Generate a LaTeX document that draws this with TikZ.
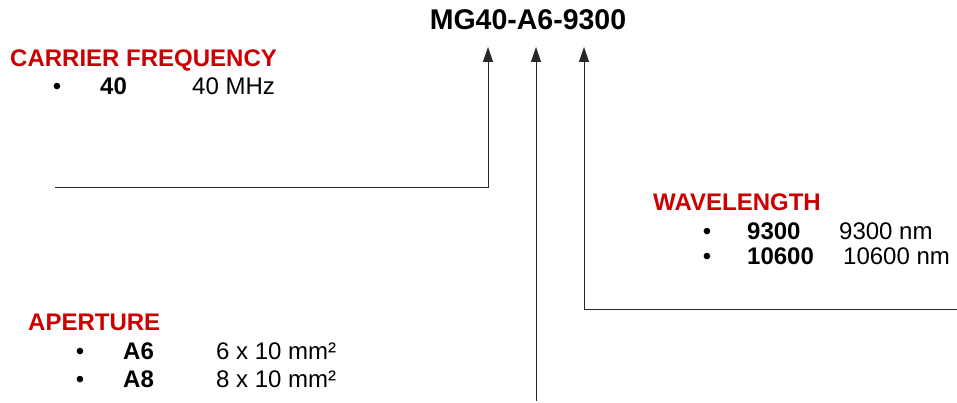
\documentclass[tikz,border=0pt]{standalone}
\usepackage{fontspec}
\setmainfont{Liberation Sans}
\usetikzlibrary{arrows.meta}
\definecolor{headred}{RGB}{204, 0, 0}
\definecolor{linegray}{RGB}{40, 40, 40}

\begin{document}
\begin{tikzpicture}[
  x=1pt, y=1pt,
  codebox/.style={anchor=base, inner sep=0pt, font=\fontsize{28.5}{32}\selectfont\bfseries},
  heading/.style={anchor=base west, inner sep=0pt, text=headred,
                  font=\fontsize{24}{28}\selectfont\bfseries},
  dotitem/.style={anchor=base, inner sep=0pt, font=\fontsize{24}{28}\selectfont},
  keyitem/.style={anchor=base west, inner sep=0pt, font=\fontsize{24}{28}\selectfont\bfseries},
  valitem/.style={anchor=base west, inner sep=0pt, font=\fontsize{24}{28}\selectfont},
  arr/.style={-{Triangle[length=15pt, width=10pt]}, line width=1pt, color=linegray}
]
  \useasboundingbox (0,0) rectangle (957,403);

  \node[codebox] (code) at (528,373) {MG40-A6-9300};

  % carrier frequency
  \node[heading] (freq)     at (10,336)  {CARRIER FREQUENCY};
  \node[dotitem] (freq dot) at (57,308)  {\textbullet};
  \node[keyitem] (freq key) at (100,308) {40};
  \node[valitem] (freq val) at (192,308) {40 MHz};

  % wavelength
  \node[heading] (wave)      at (653,192) {WAVELENGTH};
  \node[dotitem] (wave dota) at (707,163) {\textbullet};
  \node[keyitem] (wave keya) at (747,163) {9300};
  \node[valitem] (wave vala) at (839,163) {9300 nm};
  \node[dotitem] (wave dotb) at (707,138) {\textbullet};
  \node[keyitem] (wave keyb) at (747,138) {10600};
  \node[valitem] (wave valb) at (843,138) {10600 nm};

  % aperture
  \node[heading] (aper)      at (28,72)  {APERTURE};
  \node[dotitem] (aper dota) at (80,43)  {\textbullet};
  \node[keyitem] (aper keya) at (123,43) {A6};
  \node[valitem] (aper vala) at (216,43) {6 x 10 mm²};
  \node[dotitem] (aper dotb) at (80,15)  {\textbullet};
  \node[keyitem] (aper keyb) at (123,15) {A8};
  \node[valitem] (aper valb) at (216,15) {8 x 10 mm²};

  \coordinate (freq end) at (55,215);
  \coordinate (aper end) at (536,2);
  \coordinate (wave end) at (957,93);
  \coordinate (freq tip) at (488,356);
  \coordinate (aper tip) at (536,356);
  \coordinate (wave tip) at (584,356);

  \draw[arr] (freq end) -| (freq tip);
  \draw[arr] (aper end) -- (aper tip);
  \draw[arr] (wave end) -| (wave tip);
\end{tikzpicture}
\end{document}
